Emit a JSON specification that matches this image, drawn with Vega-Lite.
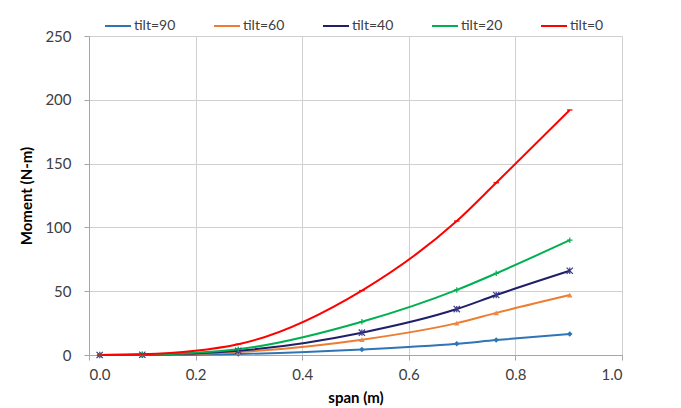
{
  "$schema": "https://vega.github.io/schema/vega-lite/v6.json",
  "width": 533,
  "height": 319,
  "autosize": "none",
  "padding": {"left": 89, "top": 36, "right": 59, "bottom": 53},
  "background": "white",
  "config": {
    "font": "Lato",
    "view": {"stroke": null},
    "axis": {
      "gridColor": "#D0D0D0",
      "domainColor": "#A6A6A6",
      "tickColor": "#A6A6A6",
      "labelColor": "#404040",
      "labelFontSize": 15,
      "titleFontSize": 15,
      "titleFontWeight": "bold",
      "titleColor": "#000000",
      "tickSize": 5
    }
  },
  "data": {
    "values": [
      {"tilt": "tilt=90", "span": 0.02, "moment": 0.0},
      {"tilt": "tilt=90", "span": 0.1, "moment": 0.05},
      {"tilt": "tilt=90", "span": 0.28, "moment": 0.8},
      {"tilt": "tilt=90", "span": 0.512, "moment": 4.3},
      {"tilt": "tilt=90", "span": 0.69, "moment": 8.8},
      {"tilt": "tilt=90", "span": 0.764, "moment": 11.7},
      {"tilt": "tilt=90", "span": 0.902, "moment": 16.5},
      {"tilt": "tilt=60", "span": 0.02, "moment": 0.0},
      {"tilt": "tilt=60", "span": 0.1, "moment": 0.15},
      {"tilt": "tilt=60", "span": 0.28, "moment": 2.3},
      {"tilt": "tilt=60", "span": 0.512, "moment": 12},
      {"tilt": "tilt=60", "span": 0.69, "moment": 25},
      {"tilt": "tilt=60", "span": 0.764, "moment": 33},
      {"tilt": "tilt=60", "span": 0.902, "moment": 47},
      {"tilt": "tilt=40", "span": 0.02, "moment": 0.0},
      {"tilt": "tilt=40", "span": 0.1, "moment": 0.2},
      {"tilt": "tilt=40", "span": 0.28, "moment": 3.3},
      {"tilt": "tilt=40", "span": 0.512, "moment": 17.5},
      {"tilt": "tilt=40", "span": 0.69, "moment": 36},
      {"tilt": "tilt=40", "span": 0.764, "moment": 47},
      {"tilt": "tilt=40", "span": 0.902, "moment": 66},
      {"tilt": "tilt=20", "span": 0.02, "moment": 0.0},
      {"tilt": "tilt=20", "span": 0.1, "moment": 0.3},
      {"tilt": "tilt=20", "span": 0.28, "moment": 4.5},
      {"tilt": "tilt=20", "span": 0.512, "moment": 26},
      {"tilt": "tilt=20", "span": 0.69, "moment": 51},
      {"tilt": "tilt=20", "span": 0.764, "moment": 64},
      {"tilt": "tilt=20", "span": 0.902, "moment": 90},
      {"tilt": "tilt=0", "span": 0.02, "moment": 0.0},
      {"tilt": "tilt=0", "span": 0.1, "moment": 0.6},
      {"tilt": "tilt=0", "span": 0.28, "moment": 8.5},
      {"tilt": "tilt=0", "span": 0.512, "moment": 50.5},
      {"tilt": "tilt=0", "span": 0.69, "moment": 105},
      {"tilt": "tilt=0", "span": 0.764, "moment": 135},
      {"tilt": "tilt=0", "span": 0.902, "moment": 192}
    ]
  },
  "encoding": {
    "x": {
      "field": "span", "type": "quantitative",
      "scale": {"domain": [0, 1], "nice": false},
      "axis": {"title": "span (m)", "values": [0, 0.2, 0.4, 0.6, 0.8, 1.0], "format": ".1f", "labelPadding": 7, "titlePadding": 8}
    },
    "y": {
      "field": "moment", "type": "quantitative",
      "scale": {"domain": [0, 250], "nice": false},
      "axis": {"title": "Moment (N-m)", "values": [0, 50, 100, 150, 200, 250], "labelPadding": 13, "titlePadding": 10}
    }
  },
  "layer": [
    {
      "mark": {"type": "line", "interpolate": "monotone", "strokeWidth": 2},
      "encoding": {
        "color": {
          "field": "tilt", "type": "nominal",
          "scale": {
            "domain": ["tilt=90", "tilt=60", "tilt=40", "tilt=20", "tilt=0"],
            "range": ["#2E75B6", "#ED7D31", "#1F1F6B", "#00B050", "#FF0000"]
          },
          "legend": {
            "title": null,
            "orient": "none",
            "direction": "horizontal",
            "legendX": 15,
            "legendY": -24,
            "symbolType": "stroke",
            "symbolSize": 676,
            "symbolStrokeWidth": 2,
            "labelFontSize": 14,
            "labelColor": "#404040",
            "columnPadding": 34,
            "labelOffset": 2,
            "symbolOffset": 0,
            "padding": 0
          }
        }
      }
    },
    {
      "transform": [{"filter": "datum.tilt === 'tilt=90'"}],
      "mark": {"type": "point", "shape": "diamond", "filled": true, "size": 30, "color": "#2E75B6", "opacity": 1}
    },
    {
      "transform": [{"filter": "datum.tilt === 'tilt=60'"}],
      "mark": {"type": "point", "shape": "triangle-up", "filled": true, "size": 30, "color": "#E98A4A", "opacity": 1}
    },
    {
      "transform": [{"filter": "datum.tilt === 'tilt=40'"}],
      "mark": {"type": "point", "shape": "M-1,-1L1,1M-1,1L1,-1M0,-1L0,1", "filled": false, "size": 40, "strokeWidth": 1.2, "color": "#3A3A8A", "opacity": 1}
    },
    {
      "transform": [{"filter": "datum.tilt === 'tilt=20'"}],
      "mark": {"type": "point", "shape": "M-1,0L1,0M0,-1L0,1", "filled": false, "size": 30, "strokeWidth": 1.2, "color": "#00B050", "opacity": 1}
    },
    {
      "transform": [{"filter": "datum.tilt === 'tilt=0'"}],
      "mark": {"type": "point", "shape": "M-1,0L1,0", "filled": false, "size": 30, "strokeWidth": 1.3, "color": "#FF0000", "opacity": 1}
    }
  ]
}
